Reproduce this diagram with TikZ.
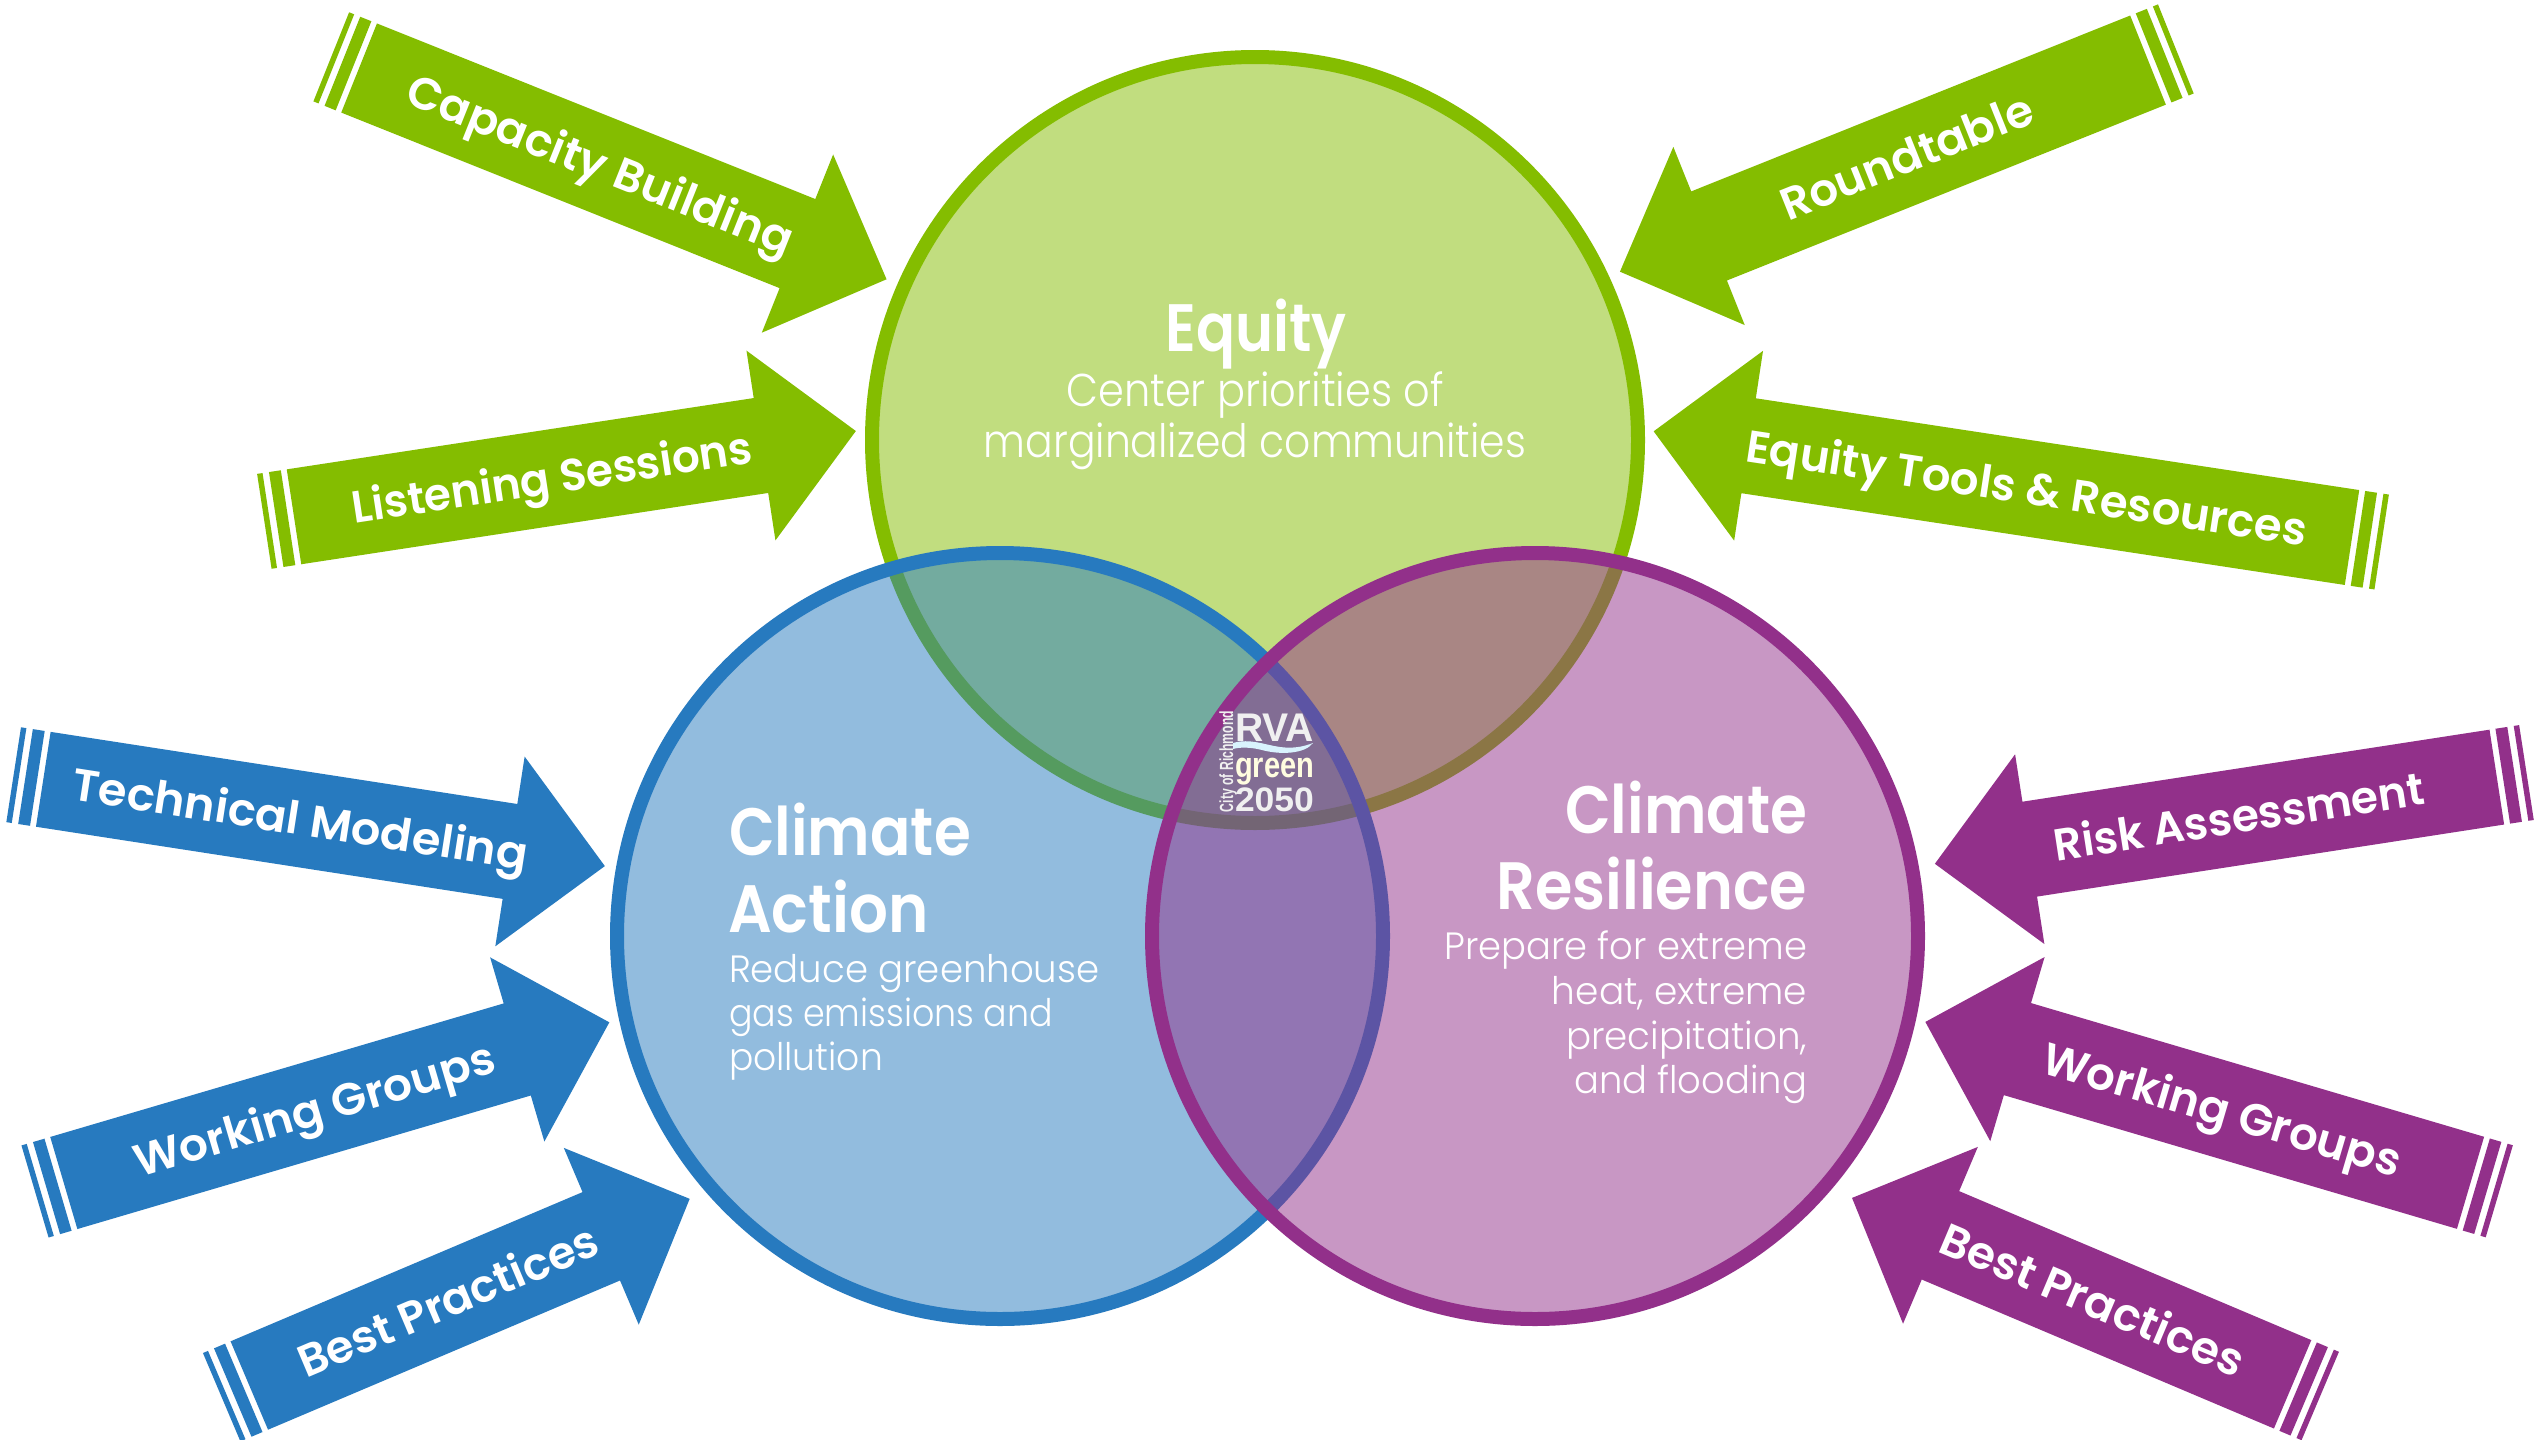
\documentclass[tikz,border=0pt]{standalone}
\usepackage{graphicx}
\usepackage{fontspec}
\setmainfont{Poppins}
\newfontfamily\headf{Poppins SemiBold}
\newfontfamily\bodyf{Poppins Light}
\newfontfamily\logof{Liberation Sans Bold}
\definecolor{cgreen}{RGB}{132,189,0}
\definecolor{cblue}{RGB}{39,122,191}
\definecolor{cpurple}{RGB}{146,48,138}
\newlength\fitw
\newcommand\fitx[2]{\setlength\fitw{#1pt}\setlength\fitw{1.012\fitw}\resizebox{\fitw}{\height}{#2}}
\tikzset{
  venn/.style={circle,minimum size=766pt,inner sep=0pt,outer sep=0pt,line width=14pt,fill opacity=.5,draw opacity=1},
  lab/.style={text=white,inner sep=0pt,outer sep=0pt,font=\headf\fontsize{45}{50}\selectfont},
  head/.style={text=white,inner sep=0pt,outer sep=0pt,font=\headf\fontsize{67}{70}\selectfont},
  bodyb/.style={text=white,inner sep=0pt,outer sep=0pt,font=\bodyf\fontsize{46}{50}\selectfont},
  bodys/.style={text=white,inner sep=0pt,outer sep=0pt,font=\bodyf\fontsize{38}{44}\selectfont},
  logo/.style={inner sep=0pt,outer sep=0pt,text=white!94!black}
}
% name, colour, tail x, tail y, tip x, tip y, text centre along axis, text width, text
\newcommand\flowarrow[9]{%
  \pgfmathsetmacro\aa{atan2(#6-#4,#5-#3)}%
  \pgfmathsetmacro\ux{cos(\aa)}%
  \pgfmathsetmacro\uy{sin(\aa)}%
  \pgfmathsetmacro\ll{(#5-#3)*\ux+(#6-#4)*\uy}%
  \pgfmathsetmacro\nk{\ll-96}%
  \pgfmathsetmacro\th{\ux<0 ? 180-\aa : -\aa}%
  \def\PT##1##2{({#3+(##1)*\ux-(##2)*\uy},{#4+(##1)*\uy+(##2)*\ux})}%
  \fill[#2] \PT{0}{-48} -- \PT{\nk}{-48} -- \PT{\nk}{-96} -- \PT{\ll}{0} -- \PT{\nk}{96} -- \PT{\nk}{48} -- \PT{0}{48} -- cycle;
  \fill[#2] \PT{-18}{-48} -- \PT{-6}{-48} -- \PT{-6}{48} -- \PT{-18}{48} -- cycle;
  \fill[#2] \PT{-30}{-48} -- \PT{-24.5}{-48} -- \PT{-24.5}{48} -- \PT{-30}{48} -- cycle;
  \node[lab,anchor=base,rotate=\th] (#1) at ({#3+(#7)*\ux+16*sin(\th)},{#4+(#7)*\uy+16*cos(\th)}) {\fitx{#8}{#9}};
}
\begin{document}
\begin{tikzpicture}[x=1pt,y=-1pt]
\useasboundingbox[fill=white] (0,0) rectangle (2535,1440);
\node[venn,draw=cgreen,fill=cgreen] (equity) at (1255,440) {};
\node[venn,draw=cblue,fill=cblue] (action) at (1000,936) {};
\node[venn,draw=cpurple,fill=cpurple] (resil) at (1535,936) {};

% logo
\node[logo,anchor=base west,font=\logof\fontsize{40}{40}\selectfont] (rva) at (1235,741) {\fitx{78}{RVA}};
\fill[cyan!15!white] (1233,743) .. controls (1250,738) and (1265,745) .. (1280,747) .. controls (1295,749) and (1305,746) .. (1313,743) .. controls (1305,754) and (1280,755) .. (1262,750) .. controls (1250,747) and (1240,747) .. (1233,749) -- cycle;
\node[logo,anchor=base west,text=yellow!12!white,font=\logof\fontsize{36}{36}\selectfont] (grn) at (1235,777) {\fitx{78}{green}};
\node[logo,anchor=base west,font=\logof\fontsize{34}{34}\selectfont] (yr) at (1235,811) {\fitx{78}{2050}};
\node[logo,anchor=base west,rotate=90,font=\logof\fontsize{19}{19}\selectfont] (city) at (1233,812) {\fitx{100}{City of Richmond}};

% circle texts
\node[head,anchor=base] (t1) at (1256,351) {\fitx{179}{Equity}};
\node[bodyb,anchor=base] (t2) at (1255,406) {\fitx{373}{Center priorities of}};
\node[bodyb,anchor=base] (t3) at (1255,457) {\fitx{536}{marginalized communities}};

\node[head,anchor=base west] (a1) at (729,855) {\fitx{239}{Climate}};
\node[head,anchor=base west] (a2) at (728,932) {\fitx{198}{Action}};
\node[bodys,anchor=base west] (a3) at (729,982) {\fitx{366}{Reduce greenhouse}};
\node[bodys,anchor=base west] (a4) at (729,1026) {\fitx{320}{gas emissions and}};
\node[bodys,anchor=base west] (a5) at (729,1070) {\fitx{152}{pollution}};

\node[head,anchor=base east] (r1) at (1807,833) {\fitx{239}{Climate}};
\node[head,anchor=base east] (r2) at (1807,909) {\fitx{307}{Resilience}};
\node[bodys,anchor=base east] (r3) at (1807,959) {\fitx{358}{Prepare for extreme}};
\node[bodys,anchor=base east] (r4) at (1807,1004) {\fitx{252}{heat, extreme}};
\node[bodys,anchor=base east] (r5) at (1807,1049) {\fitx{238}{precipitation,}};
\node[bodys,anchor=base east] (r6) at (1807,1093) {\fitx{230}{and flooding}};

% arrows
\flowarrow{capacity}{cgreen}{359.1}{68}{886.6}{279.3}{260}{407}{Capacity Building}
\flowarrow{listening}{cgreen}{294}{516.8}{855.9}{431}{261}{399}{Listening Sessions}
\flowarrow{roundtable}{cgreen}{2148}{60.1}{1619.9}{271.7}{260}{265}{Roundtable}
\flowarrow{tools}{cgreen}{2352}{537.5}{1653.6}{431.3}{329}{560}{Equity Tools \& Resources}
\flowarrow{modeling}{cblue}{43.3}{779.3}{604.9}{866.1}{260}{455}{Technical Modeling}
\flowarrow{groupsb}{cblue}{63.8}{1183}{609.4}{1022.3}{261}{370}{Working Groups}
\flowarrow{bestb}{cblue}{249.3}{1385.5}{689.7}{1198.8}{216}{318}{Best Practices}
\flowarrow{risk}{cpurple}{2496.8}{777.1}{1934.8}{863.8}{261}{369}{Risk Assessment}
\flowarrow{groupsp}{cpurple}{2470.5}{1182.8}{1925.3}{1021.9}{259}{367}{Working Groups}
\flowarrow{bestp}{cpurple}{2292.6}{1384.3}{1852}{1197.9}{217}{322}{Best Practices}
\end{tikzpicture}
\end{document}
